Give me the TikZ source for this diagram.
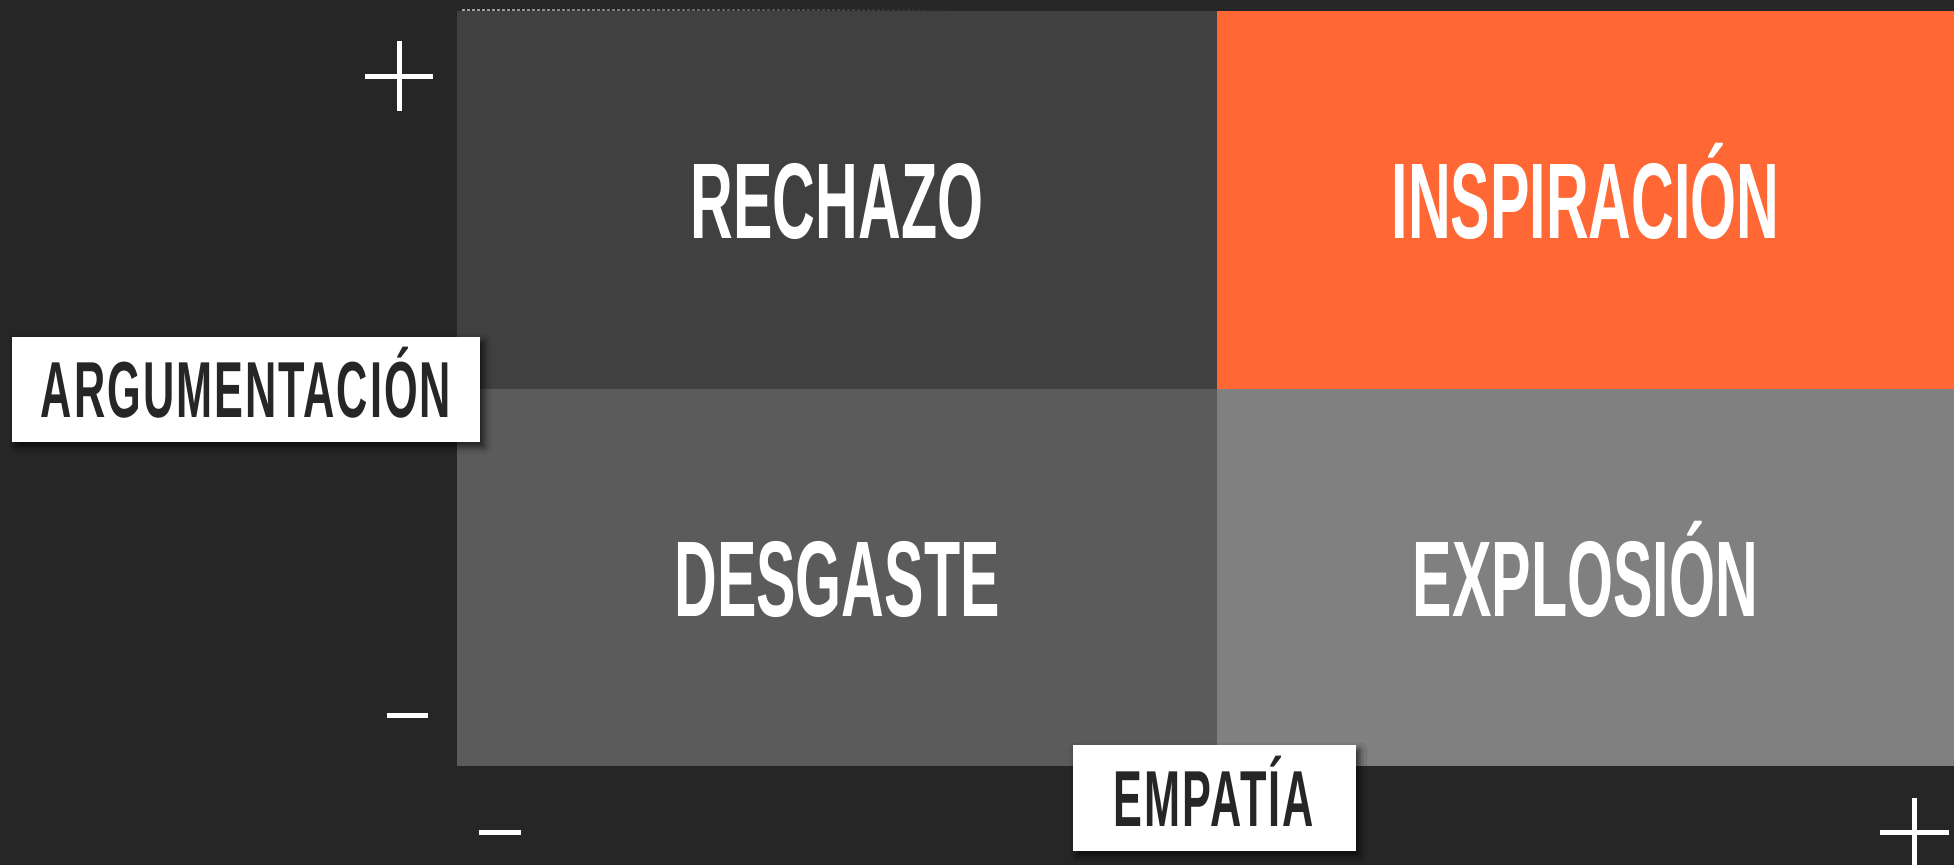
\documentclass[tikz,border=0pt]{standalone}
\usepackage{fontspec}
\newfontfamily\quadfont[FakeStretch=0.55]{Liberation Sans}
\newfontfamily\labelfont[FakeStretch=0.545,LetterSpace=2.5]{Liberation Sans}
\usetikzlibrary{positioning,shadows.blur,fadings}

\definecolor{bgdark}{HTML}{262626}
\definecolor{quadA}{HTML}{404040}
\definecolor{quadB}{HTML}{FF6735}
\definecolor{quadC}{HTML}{5B5B5B}
\definecolor{quadD}{HTML}{808080}

\begin{document}
\begin{tikzpicture}[y=-1cm,node distance=0cm,
                    quad node/.style={rectangle,inner sep=0pt,outer sep=0pt,text=white,
                      font={\quadfont\bfseries\fontsize{30.6}{31}\selectfont},text height=0.77cm,text depth=0pt},
                    axis label/.style={rectangle,fill=white,text=bgdark,inner sep=0pt,
                      font={\labelfont\bfseries\fontsize{22.6}{23}\selectfont},text height=0.57cm,text depth=0pt,
                      blur shadow={shadow xshift=0.04cm,shadow yshift=-0.05cm,shadow blur radius=0.07cm,shadow opacity=70}},
                    sign/.style={draw=white,line width=0.05cm}]

  \fill[bgdark] (0,0) rectangle (19.54,8.65);
  \useasboundingbox (0,0) rectangle (19.54,8.65);

  % quadrants
  \node[quad node,fill=quadA,minimum width=7.6cm,minimum height=3.78cm,anchor=north west] (rechazo) at (4.57,0.11) {RECHAZO};
  \node[quad node,fill=quadB,minimum width=7.37cm,minimum height=3.78cm] (inspiracion) [right=of rechazo] {INSPIRACIÓN};
  \node[quad node,fill=quadC,minimum width=7.6cm,minimum height=3.77cm] (desgaste) [below=of rechazo] {DESGASTE};
  \node[quad node,fill=quadD,minimum width=7.37cm,minimum height=3.77cm] (explosion) [below=of inspiracion] {EXPLOSIÓN};

  \draw[gray!70,line width=0.015cm,dash pattern=on 0.03cm off 0.02cm,path fading=east]
    ([xshift=0.05cm,yshift=0.01cm]rechazo.north west) -- ([xshift=5cm,yshift=0.01cm]rechazo.north west);

  % axis labels
  \node[axis label,minimum width=4.68cm,minimum height=1.05cm] (argumentacion) at (2.46,3.89) {ARGUMENTACIÓN};
  \node[axis label,minimum width=2.83cm,minimum height=1.06cm] (empatia) at (12.14,7.98) {EMPATÍA};

  % signs
  \coordinate (plus top) at (3.99,0.76);
  \coordinate (minus left) at (4.07,7.15);
  \coordinate (minus bottom) at (5.00,8.32);
  \coordinate (plus right) at (19.145,8.32);

  \draw[sign] ([xshift=-0.34cm]plus top) -- ([xshift=0.34cm]plus top)
              ([yshift=0.35cm]plus top) -- ([yshift=-0.35cm]plus top);
  \draw[sign] ([xshift=-0.205cm]minus left) -- ([xshift=0.205cm]minus left);
  \draw[sign] ([xshift=-0.21cm]minus bottom) -- ([xshift=0.21cm]minus bottom);
  \draw[sign] ([xshift=-0.345cm]plus right) -- ([xshift=0.345cm]plus right)
              ([yshift=0.34cm]plus right) -- ([yshift=-0.4cm]plus right);
\end{tikzpicture}
\end{document}
